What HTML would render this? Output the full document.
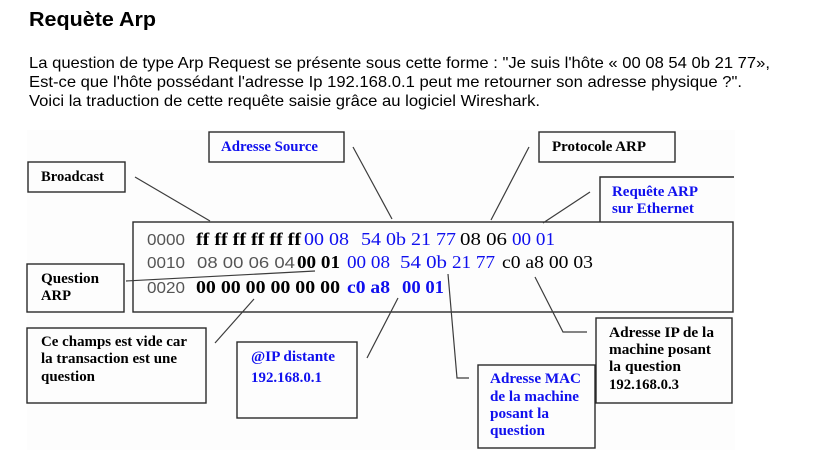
<!DOCTYPE html>
<html>
<head>
<meta charset="utf-8">
<style>
  html, body { margin:0; padding:0; background:#ffffff; }
  body { width:819px; height:457px; overflow:hidden; }
  svg { display:block; }
  .p { font-family:"Liberation Sans", Arial, sans-serif; font-size:16px; fill:#000; }
  .t { font-family:"Liberation Sans", Arial, sans-serif; font-size:20px; font-weight:bold; fill:#000; }
  .lb { font-family:"Liberation Serif", "Times New Roman", serif; font-size:15px; font-weight:bold; fill:#000; }
  .lbb { font-family:"Liberation Serif", "Times New Roman", serif; font-size:15px; font-weight:bold; fill:#1010ee; }
  .hx { font-family:"Liberation Serif", "Times New Roman", serif; font-size:18px; fill:#000; }
  .hb { font-family:"Liberation Serif", "Times New Roman", serif; font-size:18px; font-weight:bold; fill:#000; }
  .hbl { font-family:"Liberation Serif", "Times New Roman", serif; font-size:18px; fill:#1010ee; }
  .hblb { font-family:"Liberation Serif", "Times New Roman", serif; font-size:18px; font-weight:bold; fill:#1010ee; }
  .off { font-family:"Liberation Sans", Arial, sans-serif; font-size:16px; fill:#555; }
  .box { fill:none; stroke:#2a2a2a; stroke-width:1.4; }
  .ln { fill:none; stroke:#3c3c3c; stroke-width:1.2; }
</style>
</head>
<body>
<svg width="819" height="457" viewBox="0 0 819 457" xmlns="http://www.w3.org/2000/svg">
  <!-- title and paragraph -->
  <text class="t" x="29" y="26" textLength="127" lengthAdjust="spacingAndGlyphs">Requète Arp</text>
  <text class="p" x="29" y="68" textLength="741" lengthAdjust="spacingAndGlyphs">La question de type Arp Request se présente sous cette forme : "Je suis l'hôte « 00 08 54 0b 21 77»,</text>
  <text class="p" x="29" y="87" textLength="713" lengthAdjust="spacingAndGlyphs">Est-ce que l'hôte possédant l'adresse Ip 192.168.0.1 peut me retourner son adresse physique ?".</text>
  <text class="p" x="29" y="106" textLength="511" lengthAdjust="spacingAndGlyphs">Voici la traduction de cette requête saisie grâce au logiciel Wireshark.</text>

  <!-- diagram background -->
  <rect x="27" y="130" width="708" height="320" fill="#fdfdfd"/>

  <!-- boxes -->
  <rect class="box" x="209" y="132" width="135" height="30" fill="#fff"/>
  <rect class="box" x="28" y="162" width="97" height="30" fill="#fff"/>
  <rect class="box" x="539" y="132" width="136" height="30" fill="#fff"/>
  <path class="box" d="M600,222 L600,177 L734,177"/>
  <rect class="box" x="133" y="222" width="600" height="90" fill="#fff"/>
  <rect class="box" x="27" y="264" width="97" height="48" fill="#fff"/>
  <rect class="box" x="27" y="328" width="179" height="75" fill="#fff"/>
  <rect class="box" x="237" y="342" width="120" height="76" fill="#fff"/>
  <rect class="box" x="596" y="318" width="136" height="85" fill="#fff"/>
  <rect class="box" x="478" y="365" width="117" height="83" fill="#fff"/>

  <!-- connector lines -->
  <line class="ln" x1="135" y1="177" x2="210" y2="221"/>
  <line class="ln" x1="353" y1="147" x2="392" y2="219"/>
  <line class="ln" x1="529" y1="147" x2="491" y2="220"/>
  <line class="ln" x1="590" y1="192" x2="543" y2="223"/>
  <line class="ln" x1="126" y1="281" x2="315" y2="271"/>
  <line class="ln" x1="215" y1="343" x2="254" y2="299"/>
  <line class="ln" x1="367" y1="358" x2="398" y2="298"/>
  <polyline class="ln" points="448,274 457,378 469,378"/>
  <polyline class="ln" points="535,277 563,332 587,332"/>

  <!-- labels -->
  <text class="lbb" x="221" y="151" textLength="97" lengthAdjust="spacingAndGlyphs">Adresse Source</text>
  <text class="lb" x="41" y="181" textLength="63" lengthAdjust="spacingAndGlyphs">Broadcast</text>
  <text class="lb" x="552" y="151" textLength="94" lengthAdjust="spacingAndGlyphs">Protocole ARP</text>
  <text class="lbb" x="612" y="196" textLength="86" lengthAdjust="spacingAndGlyphs">Requête ARP</text>
  <text class="lbb" x="612" y="213" textLength="82" lengthAdjust="spacingAndGlyphs">sur Ethernet</text>
  <text class="lb" x="41" y="283" textLength="58" lengthAdjust="spacingAndGlyphs">Question</text>
  <text class="lb" x="41" y="300" textLength="30" lengthAdjust="spacingAndGlyphs">ARP</text>
  <text class="lb" x="41" y="346" textLength="146" lengthAdjust="spacingAndGlyphs">Ce champs est vide car</text>
  <text class="lb" x="41" y="363" textLength="136" lengthAdjust="spacingAndGlyphs">la transaction est une</text>
  <text class="lb" x="41" y="381" textLength="54" lengthAdjust="spacingAndGlyphs">question</text>
  <text class="lbb" x="251" y="361" textLength="84" lengthAdjust="spacingAndGlyphs">@IP distante</text>
  <text class="lbb" x="251" y="382" textLength="71" lengthAdjust="spacingAndGlyphs">192.168.0.1</text>
  <text class="lb" x="609" y="337" textLength="105" lengthAdjust="spacingAndGlyphs">Adresse IP de la</text>
  <text class="lb" x="609" y="354" textLength="102" lengthAdjust="spacingAndGlyphs">machine posant</text>
  <text class="lb" x="609" y="371" textLength="72" lengthAdjust="spacingAndGlyphs">la question</text>
  <text class="lb" x="609" y="389" textLength="70" lengthAdjust="spacingAndGlyphs">192.168.0.3</text>
  <text class="lbb" x="490" y="383" textLength="91" lengthAdjust="spacingAndGlyphs">Adresse MAC</text>
  <text class="lbb" x="490" y="401" textLength="89" lengthAdjust="spacingAndGlyphs">de la machine</text>
  <text class="lbb" x="490" y="418" textLength="59" lengthAdjust="spacingAndGlyphs">posant la</text>
  <text class="lbb" x="490" y="435" textLength="55" lengthAdjust="spacingAndGlyphs">question</text>

  <!-- hex row 1 -->
  <text class="off" x="147" y="245" textLength="38" lengthAdjust="spacingAndGlyphs">0000</text>
  <text class="hb" x="196" y="245" textLength="105" lengthAdjust="spacingAndGlyphs">ff ff ff ff ff ff</text>
  <text class="hbl" x="304" y="245" textLength="45" lengthAdjust="spacingAndGlyphs">00 08</text>
  <text class="hbl" x="361" y="245" textLength="95" lengthAdjust="spacingAndGlyphs">54 0b 21 77</text>
  <text class="hx" x="460" y="245" textLength="47" lengthAdjust="spacingAndGlyphs">08 06</text>
  <text class="hbl" x="512" y="245" textLength="43" lengthAdjust="spacingAndGlyphs">00 01</text>

  <!-- hex row 2 -->
  <text class="off" x="147" y="268" textLength="38" lengthAdjust="spacingAndGlyphs">0010</text>
  <text class="off" x="197" y="268" textLength="98" lengthAdjust="spacingAndGlyphs">08 00 06 04</text>
  <text class="hb" x="297" y="268" textLength="43" lengthAdjust="spacingAndGlyphs">00 01</text>
  <text class="hbl" x="347" y="268" textLength="43" lengthAdjust="spacingAndGlyphs">00 08</text>
  <text class="hbl" x="400" y="268" textLength="47" lengthAdjust="spacingAndGlyphs">54 0b</text>
  <text class="hbl" x="452" y="268" textLength="43" lengthAdjust="spacingAndGlyphs">21 77</text>
  <text class="hx" x="502" y="268" textLength="91" lengthAdjust="spacingAndGlyphs">c0 a8 00 03</text>

  <!-- hex row 3 -->
  <text class="off" x="147" y="293" textLength="38" lengthAdjust="spacingAndGlyphs">0020</text>
  <text class="hb" x="196" y="293" textLength="144" lengthAdjust="spacingAndGlyphs">00 00 00 00 00 00</text>
  <text class="hblb" x="347" y="293" textLength="43" lengthAdjust="spacingAndGlyphs">c0 a8</text>
  <text class="hblb" x="402" y="293" textLength="42" lengthAdjust="spacingAndGlyphs">00 01</text>
</svg>
</body>
</html>
